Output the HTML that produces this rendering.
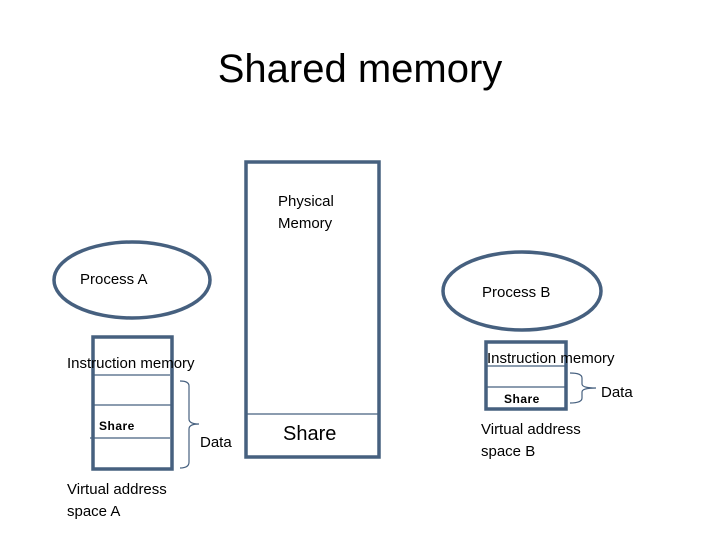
<!DOCTYPE html>
<html><head><style>body{margin:0;background:#fff}svg text{font-family:"Liberation Sans",sans-serif;fill:#000}</style></head>
<body>
<svg width="720" height="540" viewBox="0 0 720 540" xmlns="http://www.w3.org/2000/svg">
<text x="360" y="82" font-size="40" text-anchor="middle">Shared memory</text>
<g fill="none" stroke="#46607f" stroke-width="3.5">
<rect x="246" y="162" width="133" height="295"/>
<ellipse cx="132" cy="280" rx="78" ry="38"/>
<ellipse cx="522" cy="291" rx="79" ry="39"/>
<rect x="93" y="337" width="79" height="132"/>
<rect x="486" y="342" width="80" height="67"/>
</g>
<g fill="none" stroke="#46607f" stroke-width="1.2">
<line x1="246" y1="414" x2="379" y2="414"/>
<line x1="93" y1="375" x2="170" y2="375"/>
<line x1="93" y1="405" x2="172" y2="405"/>
<line x1="90" y1="438" x2="170" y2="438"/>
<line x1="486" y1="366" x2="566" y2="366"/>
<line x1="486" y1="387" x2="566" y2="387"/>
<path d="M180 381 Q189 381 189 386 L189 419 Q189 424 199 424 Q189 424 189 429 L189 462 Q189 468 180 468"/>
<path d="M570 373 Q582 373 582 378 L582 384 Q582 388 596 388 Q582 388 582 392 L582 398 Q582 403 570 403"/>
</g>
<g font-size="15">
<text x="278" y="206">Physical</text>
<text x="278" y="228">Memory</text>
<text x="80" y="284">Process A</text>
<text x="482" y="297">Process B</text>
<text x="67" y="368">Instruction memory</text>
<text x="487" y="363">Instruction memory</text>
<text x="200" y="447">Data</text>
<text x="601" y="397">Data</text>
<text x="67" y="494">Virtual address</text>
<text x="67" y="516">space A</text>
<text x="481" y="434">Virtual address</text>
<text x="481" y="456">space B</text>
</g>
<text x="99" y="430" font-size="12" font-weight="bold" letter-spacing="0.5">Share</text>
<text x="504" y="403" font-size="12" font-weight="bold" letter-spacing="0.5">Share</text>
<text x="283" y="440" font-size="20">Share</text>
</svg>
</body></html>
